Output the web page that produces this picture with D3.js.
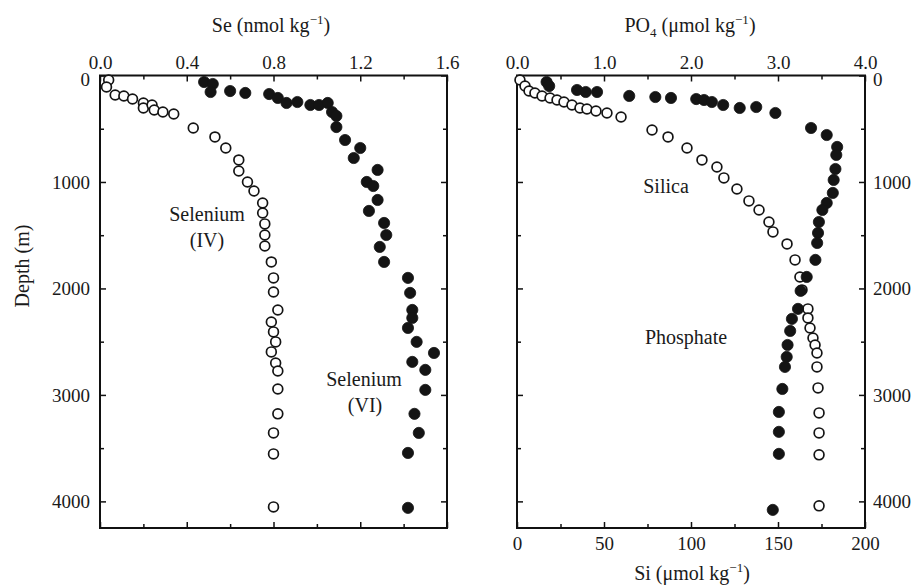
<!DOCTYPE html>
<html>
<head>
<meta charset="utf-8">
<script src="https://cdn.jsdelivr.net/npm/d3@7"></script>
<style>
  body { margin: 0; background: #fff; }
  svg text { font-family: 'Liberation Serif', 'DejaVu Serif', serif; fill: #1a1a1a; }
</style>
</head>
<body>
<svg id="chart" width="916" height="588"></svg>
<script>
// [value, depth m]
const seleniumIV = [
  [0.04, 42], [0.03, 108], [0.07, 183], [0.11, 192], [0.15, 221], [0.20, 258], [0.20, 305],
  [0.24, 277], [0.25, 324], [0.29, 343], [0.34, 362], [0.43, 493], [0.53, 577], [0.58, 681],
  [0.64, 793], [0.64, 897], [0.68, 1000], [0.71, 1085], [0.75, 1197], [0.75, 1291], [0.76, 1394],
  [0.76, 1498], [0.76, 1601], [0.79, 1751], [0.80, 1901], [0.80, 2033], [0.82, 2202], [0.79, 2315],
  [0.80, 2408], [0.81, 2502], [0.79, 2596], [0.81, 2700], [0.82, 2775], [0.82, 2944], [0.82, 3178],
  [0.80, 3357], [0.80, 3554], [0.80, 4052]
];
const seleniumVI = [
  [0.48, 61], [0.52, 80], [0.51, 155], [0.60, 146], [0.67, 164], [0.78, 174], [0.82, 211],
  [0.86, 258], [0.91, 249], [0.97, 277], [1.01, 277], [1.05, 258], [1.07, 343], [1.09, 380],
  [1.09, 484], [1.13, 606], [1.20, 681], [1.17, 775], [1.28, 887], [1.23, 1000], [1.26, 1038],
  [1.28, 1169], [1.24, 1272], [1.31, 1385], [1.32, 1498], [1.29, 1610], [1.31, 1751], [1.42, 1901],
  [1.43, 2042], [1.44, 2202], [1.44, 2277], [1.42, 2371], [1.46, 2502], [1.54, 2606], [1.44, 2690],
  [1.50, 2765], [1.50, 2953], [1.45, 3178], [1.47, 3357], [1.42, 3545], [1.42, 4061]
];
// Si in umol/kg
const silica = [
  [1.7, 42], [4.6, 99], [6.9, 146], [10.3, 164], [14.4, 192], [19.0, 211], [23.0, 230], [27.0, 249],
  [31.6, 277], [36.2, 305], [40.2, 315], [45.4, 333], [51.7, 352], [59.8, 390], [77.6, 512],
  [86.8, 577], [97.7, 681], [106.3, 793], [114.9, 859], [118.9, 962], [126.4, 1066], [133.3, 1178],
  [139.1, 1263], [144.8, 1376], [147.1, 1469], [155.2, 1582], [159.8, 1732], [162.6, 1892],
  [163.8, 2014], [167.2, 2192], [167.2, 2277], [168.4, 2371], [170.1, 2465], [171.3, 2531],
  [172.4, 2606], [172.4, 2737], [173.0, 2934], [173.6, 3169], [173.6, 3357], [173.6, 3563], [173.6, 4042]
];
// PO4 in umol/kg
const phosphate = [
  [0.34, 61], [0.37, 99], [0.69, 136], [0.79, 155], [0.92, 155], [1.29, 192], [1.59, 202],
  [1.77, 211], [2.06, 221], [2.15, 230], [2.24, 249], [2.37, 277], [2.56, 305], [2.75, 296],
  [2.97, 352], [3.38, 493], [3.56, 559], [3.68, 671], [3.67, 746], [3.66, 878], [3.64, 981],
  [3.63, 1103], [3.56, 1197], [3.51, 1263], [3.47, 1376], [3.46, 1479], [3.45, 1573], [3.43, 1732],
  [3.33, 1892], [3.26, 2023], [3.23, 2192], [3.16, 2286], [3.14, 2399], [3.11, 2531], [3.10, 2643],
  [3.08, 2737], [3.05, 2944], [3.01, 3160], [3.01, 3347], [3.01, 3554], [2.94, 4080]
];

const seTicks = [0, 0.4, 0.8, 1.2, 1.6];
const po4Ticks = [0, 1, 2, 3, 4];
const siTicks = [0, 50, 100, 150, 200];
const depthTicks = [0, 1000, 2000, 3000, 4000];

const svg = d3.select('#chart');
const plotTop = 75.5, plotBottom = 528;
const tickFont = 19, labelFont = 20;

const y = d3.scaleLinear().domain([0, 4250]).range([plotTop, plotBottom]);
const xSe = d3.scaleLinear().domain([0, 1.6]).range([100, 447]);
const xPO4 = d3.scaleLinear().domain([0, 4]).range([517, 865]);
const xSi = d3.scaleLinear().domain([0, 200]).range([517, 865]);

const depthMinor = d3.range(0, 4001, 500);

// draw an axis with inward ticks, labels only on the major values
function drawAxis(axisFn, scale, minor, major, fmt, pos, pad, showLabels, inward) {
  const isMajor = d => major.some(m => Math.abs(m - d) < 1e-9);
  const ax = axisFn(scale)
    .tickValues(minor)
    .tickSizeOuter(0)
    .tickSizeInner(0)
    .tickPadding(pad)
    .tickFormat(d => (showLabels && isMajor(d)) ? fmt(d) : '');
  const g = svg.append('g').attr('transform', pos).call(ax);
  g.select('.domain').remove();
  g.selectAll('.tick line')
    .attr('stroke', '#111')
    .attr('stroke-width', 1.5)
    .attr(inward[0], 0)
    .attr(inward[0] + '2', d => (isMajor(d) ? 6 : 4) * inward[1]);
  g.selectAll('.tick text').attr('font-size', tickFont).attr('fill', '#1a1a1a')
    .attr('font-family', "'Liberation Serif', 'DejaVu Serif', serif");
  return g;
}

// left panel
drawAxis(d3.axisTop, xSe, d3.range(0, 1.61, 0.2), seTicks, d3.format('.1f'), `translate(0,${plotTop})`, 7, true, ['y', 1]);
drawAxis(d3.axisBottom, xSe, d3.range(0, 1.61, 0.2), seTicks, d3.format('.1f'), `translate(0,${plotBottom})`, 10, false, ['y', -1]);
const depthLeft = drawAxis(d3.axisLeft, y, depthMinor, depthTicks, d3.format('d'), `translate(100,0)`, 10, true, ['x', 1]);
drawAxis(d3.axisRight, y, depthMinor, depthTicks, d3.format('d'), `translate(447,0)`, 9, false, ['x', -1]);

// right panel
drawAxis(d3.axisTop, xPO4, d3.range(0, 4.01, 0.5), po4Ticks, d3.format('.1f'), `translate(0,${plotTop})`, 7, true, ['y', 1]);
drawAxis(d3.axisBottom, xSi, d3.range(0, 201, 25), siTicks, d3.format('d'), `translate(0,${plotBottom})`, 9, true, ['y', -1]);
drawAxis(d3.axisLeft, y, depthMinor, depthTicks, d3.format('d'), `translate(517,0)`, 9, false, ['x', 1]);
const depthRight = drawAxis(d3.axisRight, y, depthMinor, depthTicks, d3.format('d'), `translate(865,0)`, 8, true, ['x', -1]);

// the depth "0" labels sit a little low, just under the top axis labels, as in the print
[depthLeft, depthRight].forEach(g => {
  g.selectAll('.tick text').filter(d => d === 0).attr('dy', '0.5em');
});

// frames
[xSe, xPO4].forEach(sx => {
  const [x0, x1] = sx.range();
  svg.append('rect')
    .attr('x', x0).attr('y', plotTop)
    .attr('width', x1 - x0).attr('height', plotBottom - plotTop)
    .attr('fill', 'none').attr('stroke', '#111').attr('stroke-width', 2);
});

function drawPoints(data, sx, filled) {
  svg.append('g').selectAll('circle')
    .data(data)
    .enter()
    .append('circle')
    .attr('cx', d => sx(d[0]))
    .attr('cy', d => y(d[1]))
    .attr('r', filled ? 5.6 : 4.9)
    .attr('fill', filled ? '#141414' : '#fff')
    .attr('stroke', '#141414')
    .attr('stroke-width', filled ? 0.8 : 1.7);
}

drawPoints(seleniumIV, xSe, false);
drawPoints(seleniumVI, xSe, true);
drawPoints(silica, xSi, false);
drawPoints(phosphate, xPO4, true);

// titles
function unitTitle(x, yy, parts) {
  const t = svg.append('text').attr('x', x).attr('y', yy)
    .attr('text-anchor', 'middle').attr('font-size', labelFont);
  parts.forEach(p => {
    const s = t.append('tspan').text(p.t);
    if (p.sup) s.attr('font-size', 13).attr('dy', -8);
    if (p.sub) s.attr('font-size', 13).attr('dy', 5);
    if (p.back) s.attr('dy', p.back);
  });
}
unitTitle(271, 32, [{t: 'Se (nmol kg'}, {t: '\u22121', sup: true}, {t: ')', back: 8}]);
unitTitle(690, 32, [{t: 'PO'}, {t: '4', sub: true}, {t: ' (\u03bcmol kg', back: -5}, {t: '\u22121', sup: true}, {t: ')', back: 8}]);
unitTitle(692, 580, [{t: 'Si (\u03bcmol kg'}, {t: '\u22121', sup: true}, {t: ')', back: 8}]);

svg.append('text')
  .attr('transform', 'translate(29,266) rotate(-90)')
  .attr('text-anchor', 'middle').attr('font-size', labelFont)
  .text('Depth (m)');

// series labels
const labels = [
  {t: 'Selenium', x: 207, y: 221}, {t: '(IV)', x: 207, y: 247},
  {t: 'Selenium', x: 364, y: 386}, {t: '(VI)', x: 365, y: 412},
  {t: 'Silica', x: 666, y: 193}, {t: 'Phosphate', x: 686, y: 344}
];
svg.append('g').selectAll('text')
  .data(labels)
  .enter()
  .append('text')
  .attr('x', d => d.x).attr('y', d => d.y)
  .attr('text-anchor', 'middle').attr('font-size', labelFont)
  .text(d => d.t);
</script>
</body>
</html>
